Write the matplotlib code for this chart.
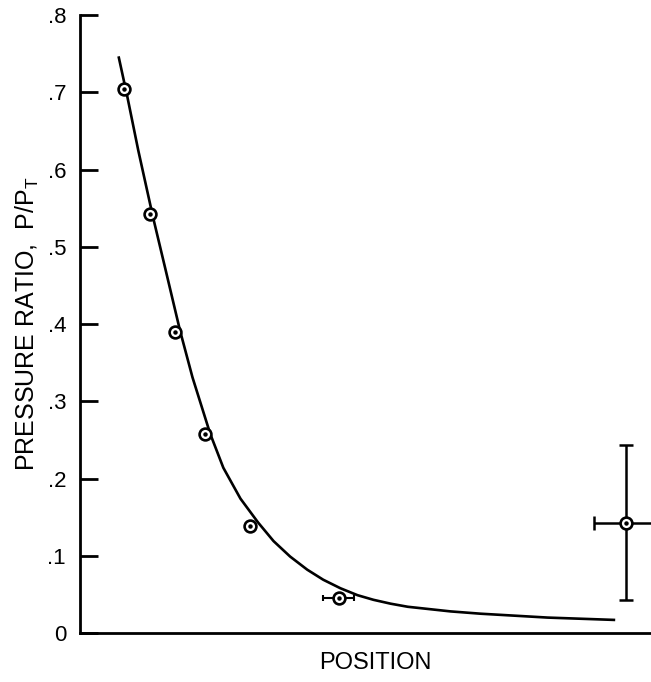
import matplotlib
matplotlib.use("Agg")
import matplotlib.pyplot as plt

# fitted curve
curve_x = [0.68, 0.83, 1.02, 1.28, 1.49, 1.75, 1.97, 2.28, 2.51, 2.81, 3.12, 3.39,
           3.68, 3.98, 4.26, 4.56, 4.86, 5.14, 5.44, 5.74, 6.49, 7.02, 8.19, 9.35]
curve_y = [0.745, 0.694, 0.625, 0.538, 0.473, 0.392, 0.331, 0.258, 0.214, 0.174,
           0.143, 0.119, 0.099, 0.082, 0.069, 0.058, 0.049, 0.043, 0.038, 0.034,
           0.028, 0.025, 0.020, 0.017]

# measured points
pos = [0.77, 1.23, 1.67, 2.19, 2.98, 4.53]
ratio = [0.704, 0.542, 0.390, 0.258, 0.139, 0.045]
pos_err = [0, 0, 0, 0, 0, 0.27]

# the odd one out on the right
far_pos = 9.56
far_ratio = 0.143
far_xerr = 0.56
far_yerr = 0.10

yticks = [0, 0.1, 0.2, 0.3, 0.4, 0.5, 0.6, 0.7, 0.8]
ytick_labels = ["0", ".1", ".2", ".3", ".4", ".5", ".6", ".7", ".8"]

plt.rcParams["font.family"] = ["Liberation Sans", "DejaVu Sans"]

fig = plt.figure(figsize=(6.51, 6.82), dpi=100)
ax = fig.add_axes([0.1229, 0.0718, 0.8771, 0.906])

ax.plot(curve_x, curve_y, color="black", lw=1.9, zorder=2)

ax.errorbar(pos, ratio, xerr=pos_err, fmt="none", ecolor="black",
            elinewidth=1.5, capsize=2.5, capthick=1.5, zorder=3)
ax.errorbar([far_pos], [far_ratio], xerr=[far_xerr], yerr=[far_yerr], fmt="none",
            ecolor="black", elinewidth=1.8, capsize=5, capthick=1.8, zorder=3)

all_x = pos + [far_pos]
all_y = ratio + [far_ratio]
ax.plot(all_x, all_y, "o", ms=8.5, mfc="white", mec="black", mew=1.9, zorder=4)
ax.plot(all_x, all_y, "o", ms=2.2, color="black", zorder=5)

ax.set_xlim(0, 10)
ax.set_ylim(0, 0.8)
ax.set_yticks(yticks)
ax.set_yticklabels(ytick_labels, fontsize=16)
ax.set_xticks([])

for side in ["top", "right"]:
    ax.spines[side].set_visible(False)
for side in ["left", "bottom"]:
    ax.spines[side].set_linewidth(2)

ax.tick_params(axis="y", direction="in", length=13, width=2, pad=10)

ax.set_ylabel(r"PRESSURE RATIO,  P/P$\mathregular{_T}$", fontsize=18, labelpad=5)
ax.set_xlabel("POSITION", fontsize=17)
ax.xaxis.set_label_coords(0.517, -0.03)

fig.savefig("out.png", dpi=100)
